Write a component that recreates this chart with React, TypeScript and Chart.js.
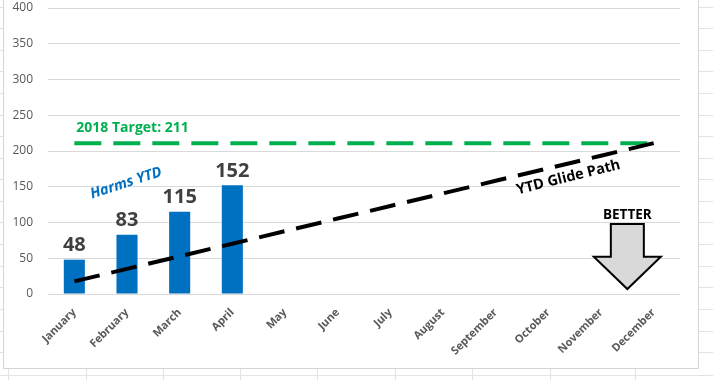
import React, { useEffect, useRef } from "react";
import { Chart, registerables } from "chart.js";

Chart.register(...registerables);

const months = [
  "January", "February", "March", "April", "May", "June",
  "July", "August", "September", "October", "November", "December",
];
const harmsYTD = [48, 83, 115, 152, null, null, null, null, null, null, null, null];
const target2018 = [211, 211, 211, 211, 211, 211, 211, 211, 211, 211, 211, 211];
const glidePath = [17.6, 35.2, 52.8, 70.3, 87.9, 105.5, 123.1, 140.7, 158.3, 175.8, 193.4, 211];
const yMin = 0;
const yMax = 400;
const yStep = 50;

const FONT = "'Open Sans', 'DejaVu Sans', sans-serif";

const framePlugin = {
  id: "frame",
  beforeDraw(chart: any) {
    const { ctx, width, height } = chart;
    ctx.save();
    ctx.fillStyle = "#ffffff";
    ctx.fillRect(0, 0, width, height);
    ctx.strokeStyle = "#e3e3e3";
    ctx.lineWidth = 1;
    ctx.beginPath();
    for (let y = 6.5; y < 368; y += 21.6) {
      ctx.moveTo(0, Math.round(y) + 0.5);
      ctx.lineTo(3, Math.round(y) + 0.5);
      ctx.moveTo(699, Math.round(y) + 0.5);
      ctx.lineTo(width, Math.round(y) + 0.5);
    }
    ctx.moveTo(0, 375.5);
    ctx.lineTo(width, 375.5);
    [8, 86, 163, 240, 317, 395, 472, 550, 635].forEach((x) => {
      ctx.moveTo(x + 0.5, 369);
      ctx.lineTo(x + 0.5, height);
    });
    ctx.stroke();
    ctx.strokeStyle = "#d4d4d4";
    ctx.beginPath();
    ctx.moveTo(3.5, 0);
    ctx.lineTo(3.5, 368.5);
    ctx.lineTo(698.5, 368.5);
    ctx.lineTo(698.5, 0);
    ctx.stroke();
    ctx.restore();
  },
};

const labelsPlugin = {
  id: "labelsPlugin",
  afterDatasetsDraw(chart: any) {
    const { ctx } = chart;
    const meta = chart.getDatasetMeta(0);
    ctx.save();
    ctx.font = `bold 20px ${FONT}`;
    ctx.fillStyle = "#404040";
    ctx.textAlign = "center";
    ctx.textBaseline = "bottom";
    meta.data.forEach((el: any, i: number) => {
      const v = harmsYTD[i];
      if (v === null || v === undefined) return;
      ctx.fillText(String(v), el.x, el.y - 4);
    });
    ctx.restore();
  },
  afterDraw(chart: any) {
    const { ctx } = chart;
    const xs = chart.scales.x;
    const ys = chart.scales.y;
    ctx.save();

    ctx.font = `bold 14px ${FONT}`;
    ctx.fillStyle = "#00B050";
    ctx.textAlign = "left";
    ctx.textBaseline = "middle";
    ctx.fillText("2018 Target: 211", xs.getPixelForValue(0) + 2, ys.getPixelForValue(232));

    ctx.save();
    ctx.translate(xs.getPixelForValue(1) - 1, ys.getPixelForValue(155));
    ctx.rotate((-18 * Math.PI) / 180);
    ctx.font = `italic bold 14.5px ${FONT}`;
    ctx.fillStyle = "#0070C0";
    ctx.textAlign = "center";
    ctx.textBaseline = "middle";
    ctx.fillText("Harms YTD", 0, 0);
    ctx.restore();

    ctx.save();
    ctx.translate(xs.getPixelForValue(9.38), ys.getPixelForValue(163));
    ctx.rotate((-14 * Math.PI) / 180);
    ctx.font = `bold 14.5px ${FONT}`;
    ctx.fillStyle = "#000000";
    ctx.textAlign = "center";
    ctx.textBaseline = "middle";
    ctx.fillText("YTD Glide Path", 0, 0);
    ctx.restore();

    const cx = (xs.getPixelForValue(10) + xs.getPixelForValue(11)) / 2;
    const yTop = ys.getPixelForValue(98);
    const yHead = ys.getPixelForValue(52);
    const yTip = ys.getPixelForValue(7);
    ctx.font = `bold 13.5px ${FONT}`;
    ctx.fillStyle = "#000000";
    ctx.textAlign = "center";
    ctx.textBaseline = "bottom";
    ctx.fillText("BETTER", cx, yTop - 2);
    ctx.beginPath();
    ctx.moveTo(cx - 16.5, yTop);
    ctx.lineTo(cx + 16.5, yTop);
    ctx.lineTo(cx + 16.5, yHead);
    ctx.lineTo(cx + 33.5, yHead);
    ctx.lineTo(cx, yTip);
    ctx.lineTo(cx - 33.5, yHead);
    ctx.lineTo(cx - 16.5, yHead);
    ctx.closePath();
    ctx.fillStyle = "#D9D9D9";
    ctx.fill();
    ctx.lineWidth = 2;
    ctx.strokeStyle = "#000000";
    ctx.lineJoin = "miter";
    ctx.stroke();

    ctx.restore();
  },
};

export default function App() {
  const ref = useRef<HTMLCanvasElement>(null);
  useEffect(() => {
    if (!ref.current) return;
    const chart = new Chart(ref.current, {
      type: "bar",
      data: {
        labels: months,
        datasets: [
          {
            type: "bar",
            label: "Harms YTD",
            data: harmsYTD as any,
            backgroundColor: "#0070C0",
            barPercentage: 0.4,
            categoryPercentage: 1,
            order: 3,
          },
          {
            type: "line",
            label: "2018 Target",
            data: target2018,
            borderColor: "#00B050",
            borderWidth: 4,
            borderDash: [27, 12],
            pointRadius: 0,
            fill: false,
            order: 2,
          },
          {
            type: "line",
            label: "YTD Glide Path",
            data: glidePath,
            borderColor: "#000000",
            borderWidth: 4,
            borderDash: [26, 12],
            pointRadius: 0,
            fill: false,
            order: 1,
          },
        ],
      },
      options: {
        responsive: false,
        animation: false,
        layout: { autoPadding: false, padding: { left: 0, top: 8, right: 33, bottom: 0 } },
        plugins: {
          legend: { display: false },
          tooltip: { enabled: false },
          title: { display: false },
        },
        scales: {
          x: {
            grid: { display: false },
            border: { display: false },
            ticks: {
              minRotation: 45,
              maxRotation: 45,
              autoSkip: false,
              padding: 4,
              color: "#595959",
              font: { family: FONT, size: 11, weight: "bold" as any },
            },
            afterFit(scale: any) {
              scale.height = 86;
            },
          },
          y: {
            min: yMin,
            max: yMax,
            ticks: {
              stepSize: yStep,
              padding: 0,
              color: "#595959",
              font: { family: FONT, size: 12 },
            },
            grid: {
              color: "#D9D9D9",
              drawTicks: true,
              tickLength: 15,
              tickColor: "rgba(0,0,0,0)",
              lineWidth: 1,
            },
            border: { display: false },
            afterFit(scale: any) {
              scale.width = 48;
            },
          },
        },
      },
      plugins: [framePlugin, labelsPlugin],
    });
    return () => chart.destroy();
  }, []);
  return (
    <div style={{ position: "absolute", left: 0, top: 0, width: 713, height: 380 }}>
      <canvas ref={ref} width={713} height={380} style={{ display: "block" }} />
    </div>
  );
}
